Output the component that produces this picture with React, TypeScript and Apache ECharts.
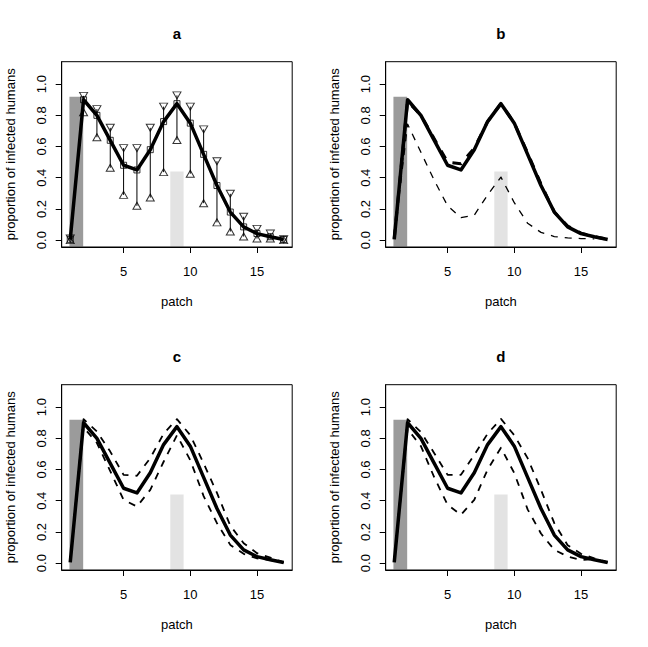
import React, { useEffect, useRef } from "react";
import * as echarts from "echarts";

// ---------- data ----------
const patch = [1, 2, 3, 4, 5, 6, 7, 8, 9, 10, 11, 12, 13, 14, 15, 16, 17];
const meanVals = [0.005, 0.9, 0.8, 0.64, 0.48, 0.45, 0.58, 0.76, 0.875, 0.75, 0.55, 0.35, 0.18, 0.085, 0.042, 0.022, 0.004];
const upperA = [0.01, 0.925, 0.84, 0.72, 0.59, 0.59, 0.72, 0.856, 0.928, 0.856, 0.71, 0.506, 0.297, 0.15, 0.072, 0.042, 0.006];
const lowerA = [0.0, 0.82, 0.66, 0.464, 0.29, 0.22, 0.273, 0.436, 0.642, 0.426, 0.237, 0.114, 0.055, 0.023, 0.01, 0.01, 0.0];
const dashB = [0.01, 0.89, 0.8, 0.65, 0.5, 0.49, 0.59, 0.76, 0.875, 0.75, 0.56, 0.36, 0.18, 0.09, 0.045, 0.022, 0.005];
const lowerB = [0.01, 0.744, 0.563, 0.383, 0.22, 0.145, 0.16, 0.29, 0.404, 0.24, 0.108, 0.05, 0.023, 0.015, 0.01, 0.008];
const upperC = [0.01, 0.923, 0.844, 0.715, 0.566, 0.56, 0.673, 0.83, 0.923, 0.82, 0.64, 0.45, 0.24, 0.128, 0.064, 0.035, 0.005];
const lowerC = [0.01, 0.87, 0.77, 0.59, 0.406, 0.363, 0.47, 0.65, 0.82, 0.66, 0.43, 0.256, 0.117, 0.06, 0.03, 0.02, 0.004];
const upperD = [0.01, 0.923, 0.84, 0.705, 0.566, 0.566, 0.694, 0.83, 0.925, 0.82, 0.673, 0.47, 0.256, 0.115, 0.06, 0.03, 0.005];
const lowerD = [0.01, 0.86, 0.75, 0.55, 0.374, 0.31, 0.406, 0.6, 0.74, 0.577, 0.345, 0.19, 0.085, 0.043, 0.02, 0.025, 0.004];
const barLeft = [0.94, 8.5];
const barRight = [1.97, 9.5];
const barTop = [0.92, 0.44];
const xTicks = [5, 10, 15];
const yTicks = [0, 0.2, 0.4, 0.6, 0.8, 1.0];
const panelLabels = ["a", "b", "c", "d"];

// ---------- layout / style ----------
const X_MIN = 0.36;
const X_MAX = 17.64;
const Y_MIN = -0.044;
const Y_MAX = 1.144;
const PANELS = [
  { left: 61.7, top: 61.7 },
  { left: 385.7, top: 61.7 },
  { left: 61.7, top: 384.7 },
  { left: 385.7, top: 384.7 },
];
const PW = 230.5;
const PH = 185.3;
const FONT = "Liberation Sans, Arial, Helvetica, sans-serif";
const BAR_FILL = ["#9b9b9b", "#e3e3e3"];

const pts = (vals: number[]) => vals.map((v, i) => [patch[i], v]);

function barSeries(g: number) {
  return {
    type: "custom",
    xAxisIndex: g,
    yAxisIndex: g,
    z: 1,
    clip: true,
    encode: { x: [0, 1], y: 2 },
    data: barLeft.map((l, i) => [l, barRight[i], barTop[i]]),
    renderItem: (params: any, api: any) => {
      const a = api.coord([api.value(0), api.value(2)]);
      const b = api.coord([api.value(1), Y_MIN]);
      return {
        type: "rect",
        shape: { x: a[0], y: a[1], width: b[0] - a[0], height: b[1] - a[1] - 0.5 },
        style: { fill: BAR_FILL[params.dataIndex] },
      };
    },
  };
}

function lineSeries(g: number, vals: number[], width: number, dash?: number[]) {
  return {
    type: "line",
    xAxisIndex: g,
    yAxisIndex: g,
    z: 3,
    symbol: "none",
    showSymbol: false,
    silent: true,
    data: pts(vals),
    lineStyle: { color: "#000", width, type: dash ? dash : "solid", cap: "butt", join: "round" },
  };
}

function scatterSeries(g: number, vals: number[], symbol: string, size: any, rotate = 0) {
  return {
    type: "scatter",
    xAxisIndex: g,
    yAxisIndex: g,
    z: 4,
    symbol,
    symbolSize: size,
    symbolRotate: rotate,
    silent: true,
    data: pts(vals),
    itemStyle: { color: "rgba(0,0,0,0)", borderColor: "#000", borderWidth: 1 },
  };
}

function errorBars(g: number) {
  return {
    type: "custom",
    xAxisIndex: g,
    yAxisIndex: g,
    z: 2,
    encode: { x: 0, y: [1, 2] },
    data: patch.map((x, i) => [x, lowerA[i], upperA[i]]),
    renderItem: (params: any, api: any) => {
      const lo = api.coord([api.value(0), api.value(1)]);
      const hi = api.coord([api.value(0), api.value(2)]);
      return {
        type: "line",
        shape: { x1: lo[0], y1: lo[1], x2: hi[0], y2: hi[1] },
        style: { stroke: "#000", lineWidth: 1 },
      };
    },
  };
}

export default function App() {
  const ref = useRef<HTMLDivElement>(null);

  useEffect(() => {
    if (!ref.current) return;
    const chart = echarts.init(ref.current, undefined, { renderer: "svg" });

    const grid = PANELS.map((p) => ({ left: p.left, top: p.top, width: PW, height: PH, show: false }));

    const xAxis = PANELS.map((_, g) => ({
      type: "value",
      gridIndex: g,
      min: X_MIN,
      max: X_MAX,
      name: "patch",
      nameLocation: "middle",
      nameGap: 48,
      nameTextStyle: { fontSize: 13, color: "#000", fontFamily: FONT },
      axisLine: { show: true, onZero: false, lineStyle: { color: "#000", width: 1 } },
      axisTick: { show: true, customValues: xTicks, length: 6, lineStyle: { color: "#000" } },
      axisLabel: { customValues: xTicks, fontSize: 13, color: "#000", fontFamily: FONT, margin: 18 },
      splitLine: { show: false },
    }));

    const yAxis = PANELS.map((_, g) => ({
      type: "value",
      gridIndex: g,
      min: Y_MIN,
      max: Y_MAX,
      name: "proportion of infected humans",
      nameLocation: "middle",
      nameGap: 45,
      nameTextStyle: { fontSize: 13, color: "#000", fontFamily: FONT },
      axisLine: { show: true, onZero: false, lineStyle: { color: "#000", width: 1 } },
      axisTick: { show: true, customValues: yTicks, length: 6, lineStyle: { color: "#000" } },
      axisLabel: {
        customValues: yTicks,
        rotate: 90,
        fontSize: 13,
        color: "#000",
        fontFamily: FONT,
        margin: 14,
        formatter: (v: number) => v.toFixed(1),
      },
      splitLine: { show: false },
    }));

    const series: any[] = [];
    // panel a
    series.push(barSeries(0));
    series.push(errorBars(0));
    series.push(lineSeries(0, meanVals, 3.5));
    series.push(scatterSeries(0, meanVals, "rect", 6));
    series.push(scatterSeries(0, lowerA, "triangle", [8, 7]));
    series.push(scatterSeries(0, upperA, "triangle", [8, 7], 180));
    // panel b
    series.push(barSeries(1));
    series.push(lineSeries(1, meanVals, 3.5));
    series.push(lineSeries(1, dashB, 3, [9, 9]));
    series.push(lineSeries(1, lowerB, 1.3, [7, 7]));
    // panel c
    series.push(barSeries(2));
    series.push(lineSeries(2, meanVals, 3.5));
    series.push(lineSeries(2, upperC, 1.8, [7, 7]));
    series.push(lineSeries(2, lowerC, 1.8, [7, 7]));
    // panel d
    series.push(barSeries(3));
    series.push(lineSeries(3, meanVals, 3.5));
    series.push(lineSeries(3, upperD, 1.8, [7, 7]));
    series.push(lineSeries(3, lowerD, 1.8, [7, 7]));

    const graphic: any[] = [];
    PANELS.forEach((p, i) => {
      graphic.push({
        type: "rect",
        z: 100,
        silent: true,
        shape: { x: p.left, y: p.top, width: PW, height: PH },
        style: { fill: "none", stroke: "#000", lineWidth: 1 },
      });
      graphic.push({
        type: "text",
        z: 100,
        x: p.left + PW / 2,
        y: p.top - 28.5,
        style: {
          text: panelLabels[i],
          fontSize: 15,
          fontWeight: "bold",
          fontFamily: FONT,
          fill: "#000",
          align: "center",
          verticalAlign: "middle",
        },
      });
    });

    chart.setOption({
      animation: false,
      backgroundColor: "#fff",
      grid,
      xAxis,
      yAxis,
      series,
      graphic,
    });

    return () => chart.dispose();
  }, []);

  return (
    <div
      ref={ref}
      style={{ position: "absolute", left: 0, top: 0, width: 648, height: 647 }}
    />
  );
}
